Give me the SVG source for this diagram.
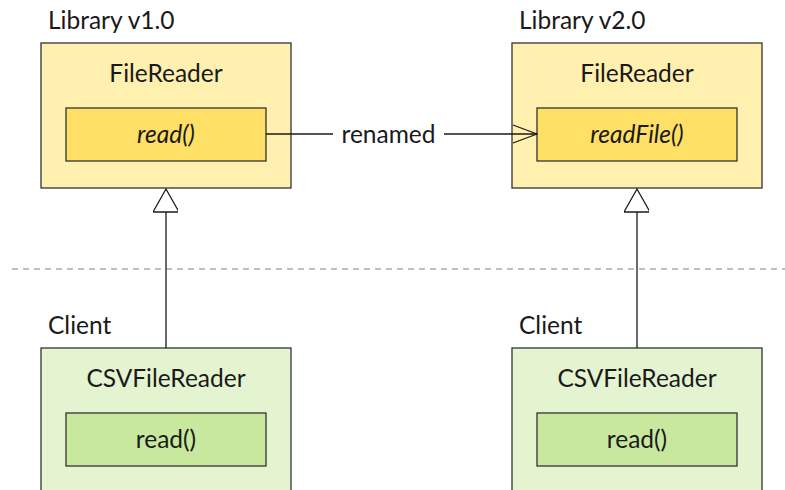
<svg xmlns="http://www.w3.org/2000/svg" width="785" height="490" viewBox="0 0 785 490">
<style>
text{font-family:"Lato","Open Sans","Liberation Sans",sans-serif;font-size:24.5px;fill:#1a1a1a}
.c{text-anchor:middle}
.i{font-style:italic}
.ylo{fill:#fff0b0;stroke:#333;stroke-width:1.3}
.yli{fill:#ffe066;stroke:#333;stroke-width:1.3}
.gro{fill:#e4f3d0;stroke:#333;stroke-width:1.3}
.gri{fill:#c8e89e;stroke:#333;stroke-width:1.3}
.ln{stroke:#1a1a1a;stroke-width:1.3;fill:none}
</style>
<defs>
<marker id="open" markerWidth="26" markerHeight="20" refX="25" refY="10" orient="auto" markerUnits="userSpaceOnUse">
<path d="M1,1 L25,10 L1,19" fill="none" stroke="#1a1a1a" stroke-width="1.3"/>
</marker>
<marker id="tri" markerWidth="28" markerHeight="25" refX="24" refY="13" orient="auto" markerUnits="userSpaceOnUse">
<path d="M1,0 L24,13 L1,26 Z" fill="#fff" stroke="#1a1a1a" stroke-width="1.3"/>
</marker>
</defs>
<line x1="12" y1="269" x2="785" y2="269" stroke="#aaa" stroke-width="1.3" stroke-dasharray="6,5"/>
<g id="lib1">
<text x="48" y="29">Library v1.0</text>
<rect class="ylo" x="41" y="43" width="250" height="145"/>
<text class="c" x="166" y="82">FileReader</text>
<rect class="yli" x="66" y="108" width="200" height="53"/>
<text class="c i" x="166" y="143">read()</text>
</g>
<g id="lib2">
<text x="519" y="29">Library v2.0</text>
<rect class="ylo" x="512" y="43" width="250" height="145"/>
<text class="c" x="637" y="82">FileReader</text>
<rect class="yli" x="537" y="108" width="200" height="53"/>
<text class="c i" x="637" y="143">readFile()</text>
</g>
<g id="client1">
<text x="48" y="334">Client</text>
<rect class="gro" x="41" y="348" width="250" height="150"/>
<text class="c" x="166" y="387">CSVFileReader</text>
<rect class="gri" x="66" y="413" width="200" height="53"/>
<text class="c" x="166" y="448">read()</text>
</g>
<g id="client2">
<text x="519" y="334">Client</text>
<rect class="gro" x="512" y="348" width="250" height="150"/>
<text class="c" x="637" y="387">CSVFileReader</text>
<rect class="gri" x="537" y="413" width="200" height="53"/>
<text class="c" x="637" y="448">read()</text>
</g>
<g id="connectors">
<line class="ln" x1="266" y1="134" x2="333" y2="134"/>
<text class="c" x="388.5" y="143">renamed</text>
<line class="ln" x1="444" y1="134" x2="537" y2="134" marker-end="url(#open)"/>
<line class="ln" x1="166" y1="348" x2="166" y2="189" marker-end="url(#tri)"/>
<line class="ln" x1="637" y1="348" x2="637" y2="189" marker-end="url(#tri)"/>
</g>
</svg>
